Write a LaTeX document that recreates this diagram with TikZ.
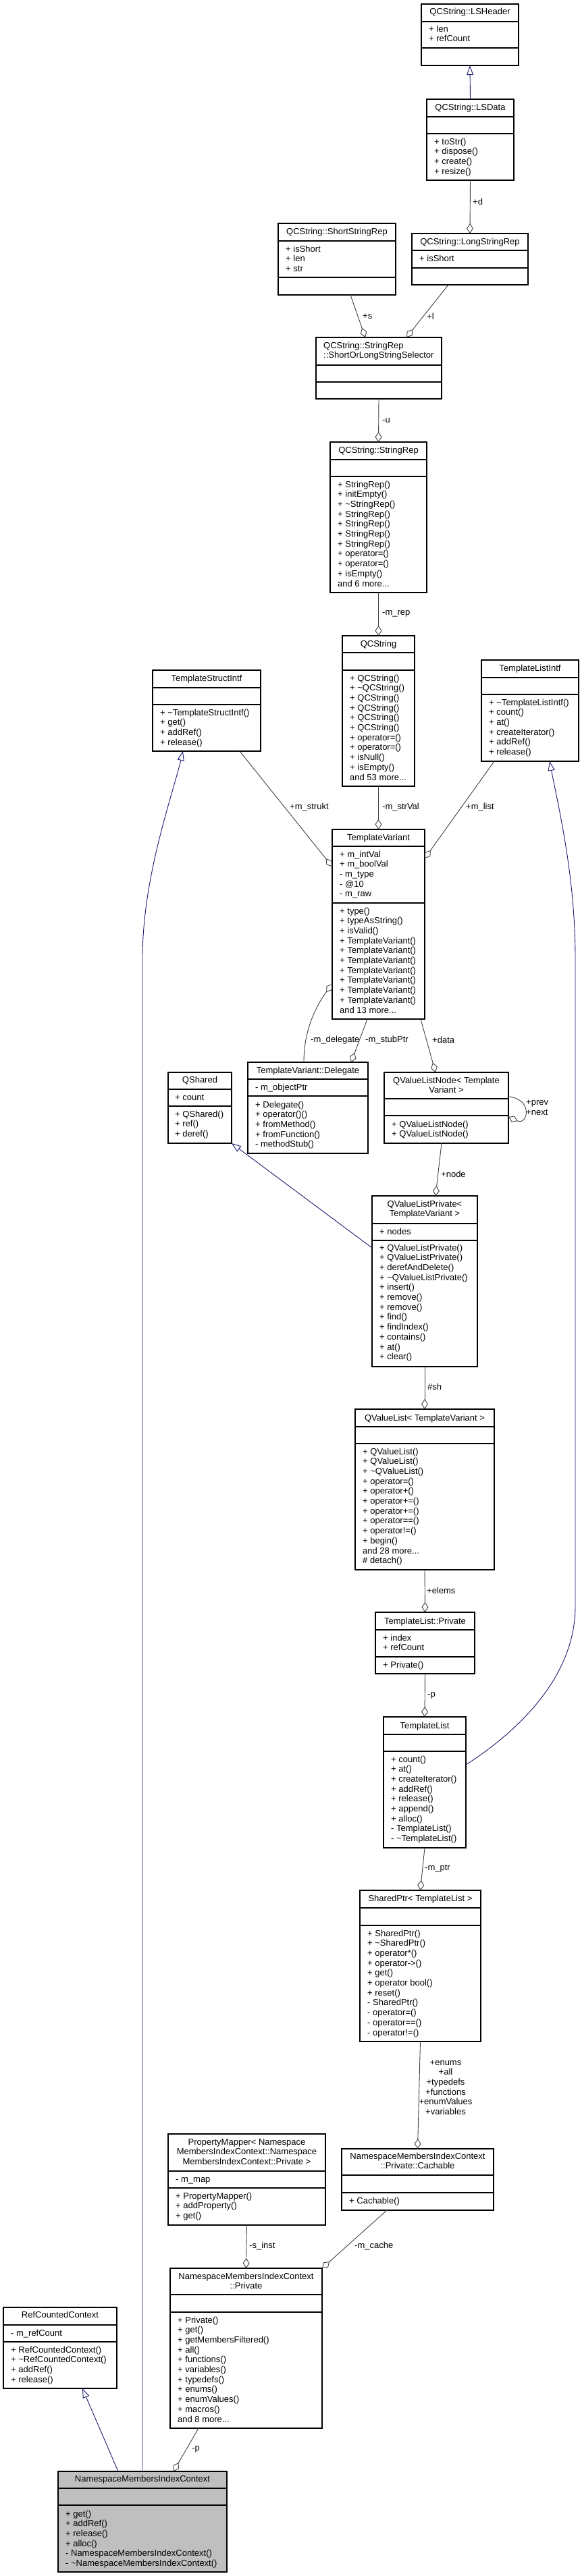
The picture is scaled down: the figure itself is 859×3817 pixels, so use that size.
\documentclass[tikz,border=0pt]{standalone}
\usepackage{fontspec}
\setmainfont{Liberation Sans}
\usetikzlibrary{arrows.meta,calc}
\definecolor{edgegray}{HTML}{404040}
\definecolor{inhblue}{HTML}{191970}
\definecolor{mainfill}{HTML}{BFBFBF}
\newcommand\threedots{...}
\tikzset{
 cls/.style={draw=black, line width=1.2pt, fill=white, inner sep=0pt, outer sep=0pt},
 sepline/.style={draw=black, line width=1.2pt},
 txt/.style={inner sep=0pt, font=\fontsize{13}{14.7}\selectfont},
 assoc/.style={draw=edgegray, line width=0.9pt, -{Diamond[open,length=15pt,width=10pt]}},
 inherit/.style={draw=inhblue, line width=0.9pt, -{Triangle[open,length=14pt,width=10pt]}},
 elabel/.style={txt, anchor=west},
}
\newcommand\classbox[8]{%
 \node[cls,#8,minimum width={(#4-#2)*1pt},minimum height={(#5-#3)*1pt}] (#1) at ({(#2+#4)/2},{(#3+#5)/2}) {};
 \draw[sepline] (#2,#6) -- (#4,#6) (#2,#7) -- (#4,#7);}
\newcommand\ctitle[4]{\foreach \t [count=\i from 0] in {#4} \node[txt,anchor=base] (#1\i) at (#2,{#3+4+\i*14.7}) {\t};}
\newcommand\mlist[4]{\foreach \t [count=\i from 0] in {#4} \node[txt,anchor=base west] (#1\i) at (#2,{#3+4+\i*14.7}) {\t};}
\begin{document}
\begin{tikzpicture}[x=1pt,y=-1pt]
\fill[white] (0,0) rectangle (859,3817);
\useasboundingbox (0,0) rectangle (859,3817);

\classbox{lsheader}{624}{6}{768}{97}{32}{71}{}
\ctitle{lsheader-t}{696}{17}{QCString::LSHeader}
\mlist{lsheader-a}{635}{43}{+ len,+ refCount}

\classbox{lsdata}{632}{147}{761}{267}{173}{198}{}
\ctitle{lsdata-t}{696.5}{159}{QCString::LSData}
\mlist{lsdata-m}{643}{210}{+ toStr(),+ dispose(),+ create(),+ resize()}

\classbox{shortrep}{412}{331}{586}{437}{357}{411}{}
\ctitle{shortrep-t}{499}{343}{QCString::ShortStringRep}
\mlist{shortrep-a}{423}{369}{+ isShort,+ len,+ str}

\classbox{longrep}{610}{346}{782}{422}{371}{397}{}
\ctitle{longrep-t}{696}{358}{QCString::LongStringRep}
\mlist{longrep-a}{621}{383}{+ isShort}

\classbox{selector}{468}{500}{654}{591}{541}{566}{}
\mlist{selector-t}{479}{512}{QCString::StringRep,::ShortOrLongStringSelector}

\classbox{stringrep}{489}{655}{632}{878}{681}{706}{}
\ctitle{stringrep-t}{560.5}{667}{QCString::StringRep}
\mlist{stringrep-m}{500}{718}{+ StringRep(),+ initEmpty(),+ \textasciitilde StringRep(),+ StringRep(),+ StringRep(),+ StringRep(),+ StringRep(),+ operator=(),+ operator=(),+ isEmpty(),and 6 more\threedots}

\classbox{qcstring}{507}{942}{614}{1165}{967}{993}{}
\ctitle{qcstring-t}{560.5}{954}{QCString}
\mlist{qcstring-m}{518}{1005}{+ QCString(),+ \textasciitilde QCString(),+ QCString(),+ QCString(),+ QCString(),+ QCString(),+ operator=(),+ operator=(),+ isNull(),+ isEmpty(),and 53 more\threedots}

\classbox{tstruct}{226}{993}{386}{1113}{1019}{1044}{}
\ctitle{tstruct-t}{306}{1005}{TemplateStructIntf}
\mlist{tstruct-m}{237}{1056}{+ \textasciitilde TemplateStructIntf(),+ get(),+ addRef(),+ release()}

\classbox{tlistintf}{713}{978}{857}{1128}{1004}{1029}{}
\ctitle{tlistintf-t}{785}{990}{TemplateListIntf}
\mlist{tlistintf-m}{724}{1041}{+ \textasciitilde TemplateListIntf(),+ count(),+ at(),+ createIterator(),+ addRef(),+ release()}

\classbox{tvariant}{492}{1229}{629}{1510}{1254}{1338}{}
\ctitle{tvariant-t}{560.5}{1241}{TemplateVariant}
\mlist{tvariant-a}{503}{1266}{+ m\_intVal,+ m\_boolVal,- m\_type,- @10,- m\_raw}
\mlist{tvariant-m}{503}{1350}{+ type(),+ typeAsString(),+ isValid(),+ TemplateVariant(),+ TemplateVariant(),+ TemplateVariant(),+ TemplateVariant(),+ TemplateVariant(),+ TemplateVariant(),+ TemplateVariant(),and 13 more\threedots}

\classbox{delegate}{367}{1574}{545}{1709}{1599}{1624}{}
\ctitle{delegate-t}{456}{1586}{TemplateVariant::Delegate}
\mlist{delegate-a}{378}{1611}{- m\_objectPtr}
\mlist{delegate-m}{378}{1637}{+ Delegate(),+ operator()(),+ fromMethod(),+ fromFunction(),- methodStub()}

\classbox{qshared}{249}{1589}{343}{1694}{1614}{1639}{}
\ctitle{qshared-t}{296}{1600}{QShared}
\mlist{qshared-a}{259}{1626}{+ count}
\mlist{qshared-m}{259}{1651}{+ QShared(),+ ref(),+ deref()}

\classbox{qvlnode}{569}{1589}{753}{1694}{1628}{1653}{}
\ctitle{qvlnode-t}{661}{1601}{QValueListNode< Template,Variant >}
\mlist{qvlnode-m}{580}{1666}{+ QValueListNode(),+ QValueListNode()}

\classbox{qvlpriv}{551}{1772}{707}{2025}{1813}{1838}{}
\ctitle{qvlpriv-t}{629}{1784}{QValueListPrivate<,TemplateVariant >}
\mlist{qvlpriv-a}{562}{1825}{+ nodes}
\mlist{qvlpriv-m}{562}{1849}{+ QValueListPrivate(),+ QValueListPrivate(),+ derefAndDelete(),+ \textasciitilde QValueListPrivate(),+ insert(),+ remove(),+ remove(),+ find(),+ findIndex(),+ contains(),+ at(),+ clear()}

\classbox{qvlist}{526}{2088}{732}{2326}{2114}{2139}{}
\ctitle{qvlist-t}{629}{2101}{QValueList< TemplateVariant >}
\mlist{qvlist-m}{537}{2151}{+ QValueList(),+ QValueList(),+ \textasciitilde QValueList(),+ operator=(),+ operator+(),+ operator+=(),+ operator+=(),+ operator==(),+ operator!=(),+ begin(),and 28 more\threedots,\# detach()}

\classbox{tlpriv}{556}{2389}{703}{2480}{2415}{2455}{}
\ctitle{tlpriv-t}{629.5}{2402}{TemplateList::Private}
\mlist{tlpriv-a}{567}{2427}{+ index,+ refCount}
\mlist{tlpriv-m}{567}{2467}{+ Private()}

\classbox{tlist}{568}{2544}{690}{2738}{2570}{2595}{}
\ctitle{tlist-t}{629}{2557}{TemplateList}
\mlist{tlist-m}{579}{2607}{+ count(),+ at(),+ createIterator(),+ addRef(),+ release(),+ append(),+ alloc(),- TemplateList(),- \textasciitilde TemplateList()}

\classbox{sharedptr}{533}{2801}{712}{3025}{2827}{2853}{}
\ctitle{sharedptr-t}{622.5}{2813}{SharedPtr< TemplateList >}
\mlist{sharedptr-m}{544}{2865}{+ SharedPtr(),+ \textasciitilde SharedPtr(),+ operator*(),+ operator->(),+ get(),+ operator bool(),+ reset(),- SharedPtr(),- operator=(),- operator==(),- operator!=()}

\classbox{propmap}{249}{3162}{482}{3297}{3217}{3242}{}
\ctitle{propmap-t}{365.5}{3174}{PropertyMapper< Namespace,MembersIndexContext::Namespace,MembersIndexContext::Private >}
\mlist{propmap-a}{260}{3229}{- m\_map}
\mlist{propmap-m}{260}{3254}{+ PropertyMapper(),+ addProperty(),+ get()}

\classbox{cachable}{506}{3184}{731}{3275}{3223}{3249}{}
\ctitle{cachable-t}{618.5}{3195}{NamespaceMembersIndexContext,::Private::Cachable}
\mlist{cachable-m}{517}{3261}{+ Cachable()}

\classbox{nmpriv}{252}{3361}{477}{3598}{3400}{3426}{}
\ctitle{nmpriv-t}{364.5}{3373}{NamespaceMembersIndexContext,::Private}
\mlist{nmpriv-m}{263}{3438}{+ Private(),+ get(),+ getMembersFiltered(),+ all(),+ functions(),+ variables(),+ typedefs(),+ enums(),+ enumValues(),+ macros(),and 8 more\threedots}

\classbox{refcounted}{5}{3419}{173}{3539}{3445}{3470}{}
\ctitle{refcounted-t}{89}{3430}{RefCountedContext}
\mlist{refcounted-a}{16}{3457}{- m\_refCount}
\mlist{refcounted-m}{16}{3482}{+ RefCountedContext(),+ \textasciitilde RefCountedContext(),+ addRef(),+ release()}

\classbox{main}{86}{3662}{336}{3811}{3687}{3712}{fill=mainfill}
\ctitle{main-t}{211}{3673}{NamespaceMembersIndexContext}
\mlist{main-m}{97}{3725}{+ get(),+ addRef(),+ release(),+ alloc(),- NamespaceMembersIndexContext(),- \textasciitilde NamespaceMembersIndexContext()}

% connectors
\draw[inherit] (lsdata.north) -- (lsheader.south);
\draw[assoc] (lsdata.south) -- (longrep.north);
\node[elabel] (l-d) at (700,299) {+d};
\draw[assoc] ([xshift=20pt]shortrep.south) -- ([xshift=-20pt]selector.north);
\node[elabel] (l-s) at (537,469) {+s};
\draw[assoc] ([xshift=-32pt]longrep.south) -- ([xshift=41pt]selector.north);
\node[elabel] (l-l) at (632,469) {+l};
\draw[assoc] (selector.south) -- (stringrep.north);
\node[elabel] (l-u) at (566,623) {-u};
\draw[assoc] (stringrep.south) -- (qcstring.north);
\node[elabel] (l-mrep) at (566,909) {-m\_rep};
\draw[assoc] ([xshift=49pt]tstruct.south) -- ([yshift=85.5pt]tvariant.west);
\node[elabel] (l-strukt) at (429,1196) {+m\_strukt};
\draw[assoc] (qcstring.south) -- (tvariant.north);
\node[elabel] (l-strval) at (566,1196) {-m\_strVal};
\draw[assoc] ([xshift=-53pt]tlistintf.south) -- ([yshift=97.5pt]tvariant.east);
\node[elabel] (l-list) at (690,1196) {+m\_list};
\draw[inherit] (main.north) -- (211,1420) .. controls (211,1300) and (255,1180) .. ([xshift=-35pt]tstruct.south);
\draw[inherit] ([yshift=26pt]tlist.east) .. controls (775,2560) and (852,2480) .. (852,2380) -- (852,1420) .. controls (852,1300) and (828,1200) .. ([xshift=29pt]tlistintf.south);
\draw[assoc] ([xshift=-6pt]delegate.north) .. controls (450,1530) and (465,1495) .. ([yshift=-88.5pt]tvariant.west);
\node[elabel] (l-deleg) at (460,1541) {-m\_delegate};
\draw[assoc] ([xshift=-16.5pt]tvariant.south) -- ([xshift=64pt]delegate.north);
\node[elabel] (l-stub) at (541,1541) {-m\_stubPtr};
\draw[assoc] ([xshift=62.5pt]tvariant.south) -- ([xshift=-16pt]qvlnode.north);
\node[elabel] (l-data) at (640,1541) {+data};
\draw[assoc] ([yshift=16.5pt]qvlnode.east) .. controls (790,1628) and (782,1668) .. ([yshift=-13.5pt]qvlnode.east);
\node[txt, anchor=west, align=left] (l-prevnext) at (779,1641) {+prev\\+next};
\draw[assoc] ([xshift=-7pt]qvlnode.south) -- ([xshift=16pt]qvlpriv.north);
\node[elabel] (l-node) at (653,1740) {+node};
\draw[inherit] ([yshift=49.5pt]qvlpriv.west) -- (qshared.south east);
\draw[assoc] (qvlpriv.south) -- (qvlist.north);
\node[elabel] (l-sh) at (633,2055) {\#sh};
\draw[assoc] (qvlist.south) -- (tlpriv.north);
\node[elabel] (l-elems) at (632,2357) {+elems};
\draw[assoc] (tlpriv.south) -- (tlist.north);
\node[elabel] (l-p1) at (633,2512) {-p};
\draw[assoc] (tlist.south) -- (sharedptr.north);
\node[elabel] (l-mptr) at (629,2769) {-m\_ptr};
\draw[assoc] (sharedptr.south) -- (cachable.north);
\ctitle{l-multi}{660}{3056}{+enums,+all,+typedefs,+functions,+enumValues,+variables}
\draw[assoc] (propmap.south) -- (nmpriv.north);
\node[elabel] (l-sinst) at (369,3328) {-s\_inst};
\draw[assoc] ([xshift=-45.5pt]cachable.south) -- (nmpriv.north east);
\node[elabel] (l-mcache) at (525,3328) {-m\_cache};
\draw[assoc] ([xshift=-70.5pt]nmpriv.south) -- ([xshift=46pt]main.north);
\node[elabel] (l-p2) at (284,3629) {-p};
\draw[inherit] ([xshift=-36pt]main.north) -- ([xshift=33pt]refcounted.south);
\end{tikzpicture}
\end{document}
